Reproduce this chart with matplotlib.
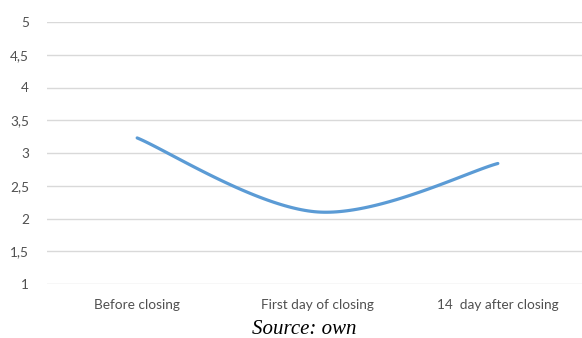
import numpy as np
import matplotlib
matplotlib.use("Agg")
import matplotlib.pyplot as plt

categories = ["Before closing", "First day of closing", "14  day after closing"]
values = [3.23, 2.1, 2.84]
y_ticks = [1, 1.5, 2, 2.5, 3, 3.5, 4, 4.5, 5]
y_tick_labels = ["1", "1,5", "2", "2,5", "3", "3,5", "4", "4,5", "5"]


def smooth_curve(xs, ys, n=60):
    """Catmull-Rom style smoothing through every data point (cubic Bezier segments)."""
    pts = np.column_stack([xs, ys]).astype(float)
    out = []
    for i in range(len(pts) - 1):
        p0 = pts[i - 1] if i > 0 else pts[i]
        p1 = pts[i]
        p2 = pts[i + 1]
        p3 = pts[i + 2] if i + 2 < len(pts) else pts[i + 1]
        c1 = p1 + (p2 - p0) / 6.0
        c2 = p2 - (p3 - p1) / 6.0
        t = np.linspace(0, 1, n)[:, None]
        seg = ((1 - t) ** 3) * p1 + 3 * ((1 - t) ** 2) * t * c1 + 3 * (1 - t) * t ** 2 * c2 + t ** 3 * p2
        out.append(seg if i == 0 else seg[1:])
    seg = np.vstack(out)
    return seg[:, 0], seg[:, 1]


W, H = 582, 338
fig = plt.figure(figsize=(W / 100, H / 100), dpi=100)
left, right, top, bottom = 47, 588, 22, 284
ax = fig.add_axes([left / W, 1 - bottom / H, (right - left) / W, (bottom - top) / H])

x = np.arange(len(categories))
sx, sy = smooth_curve(x, values)
ax.plot(sx, sy, color="#5B9BD5", linewidth=2.3, solid_capstyle="round", zorder=3)

ax.set_xlim(-0.5, len(categories) - 0.5)
ax.set_ylim(1, 5)
ax.set_yticks(y_ticks)
ax.set_yticklabels(y_tick_labels)
ax.set_xticks(x)
ax.set_xticklabels(categories)

for s in ax.spines.values():
    s.set_visible(False)
ax.grid(axis="y", color="#D9D9D9", linewidth=1.0)
ax.set_axisbelow(True)
ax.tick_params(axis="both", length=0, labelsize=9.8, labelcolor="#505050")
ax.tick_params(axis="y", pad=13)
ax.tick_params(axis="x", pad=11)
for lbl in ax.get_xticklabels() + ax.get_yticklabels():
    lbl.set_family("Lato")

fig.text(304 / W, 1 - 329 / H, "Source: own", family="Liberation Serif",
         style="italic", fontsize=15, ha="center", va="center", color="black")

fig.savefig("out.png", dpi=100)
